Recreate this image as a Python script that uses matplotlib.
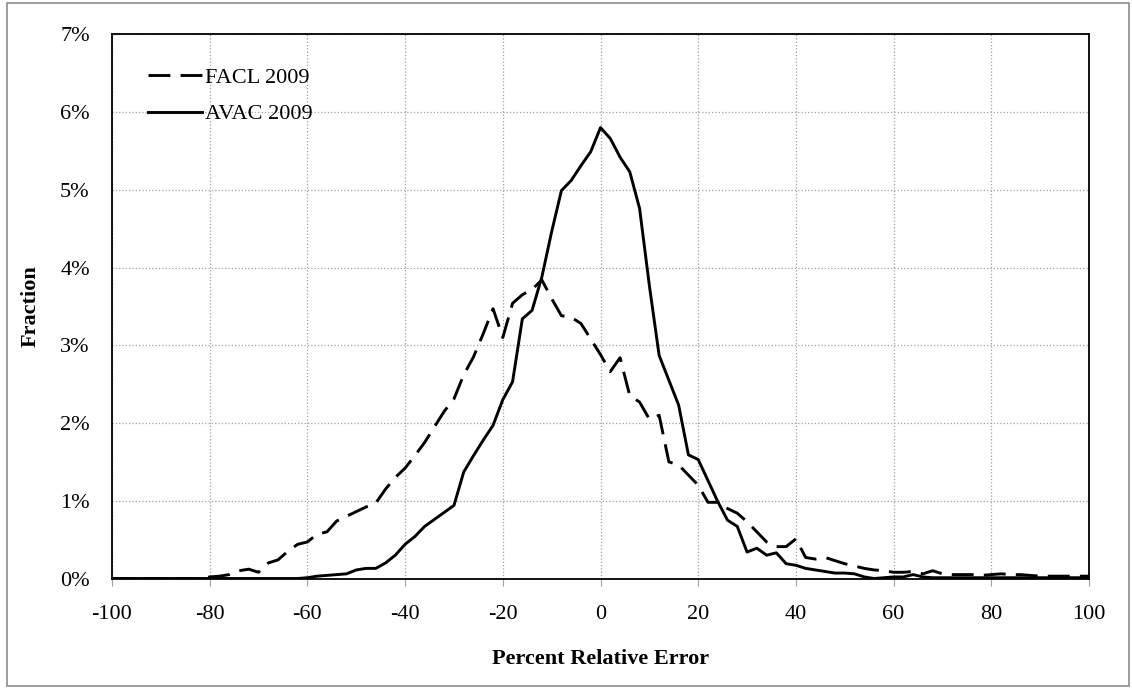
import numpy as np
import matplotlib
matplotlib.use("Agg")
import matplotlib.pyplot as plt
from matplotlib.patches import Rectangle
from matplotlib.ticker import FuncFormatter

# percent relative error bins, step 2
x_err = list(range(-100, 101, 2))

# FACL 2009 fraction (%)
facl = [0.0, 0.0, 0.0, 0.0, 0.0, 0.0, 0.0, 0.0, 0.0, 0.0,      # -100 .. -82
        0.02, 0.03, 0.05, 0.10, 0.12, 0.08, 0.20, 0.24, 0.35, 0.44,  # -80 .. -62
        0.47, 0.57, 0.60, 0.74, 0.80, 0.86, 0.92, 0.97, 1.15, 1.30,  # -60 .. -42
        1.42, 1.58, 1.75, 1.95, 2.15, 2.31, 2.62, 2.85, 3.15, 3.47,  # -40 .. -22
        3.10, 3.54, 3.65, 3.72, 3.84, 3.60, 3.38, 3.36, 3.28, 3.08,  # -20 .. -2
        2.88, 2.66, 2.84, 2.35, 2.27, 2.05, 2.10, 1.50, 1.46, 1.33,  # 0 .. 18
        1.20, 0.98, 0.98, 0.90, 0.84, 0.73, 0.60, 0.47, 0.41, 0.41,  # 20 .. 38
        0.51, 0.27, 0.25, 0.27, 0.23, 0.19, 0.16, 0.13, 0.11, 0.10,  # 40 .. 58
        0.08, 0.08, 0.09, 0.06, 0.10, 0.06, 0.05, 0.05, 0.05, 0.04,  # 60 .. 78
        0.05, 0.06, 0.05, 0.05, 0.04, 0.03, 0.03, 0.03, 0.03, 0.03,  # 80 .. 98
        0.03]                                                         # 100

# AVAC 2009 fraction (%)
avac = [0.0, 0.0, 0.0, 0.0, 0.0, 0.0, 0.0, 0.0, 0.0, 0.0,      # -100 .. -82
        0.0, 0.0, 0.0, 0.0, 0.0, 0.0, 0.0, 0.0, 0.0, 0.0,            # -80 .. -62
        0.01, 0.03, 0.04, 0.05, 0.06, 0.11, 0.13, 0.13, 0.20, 0.30,  # -60 .. -42
        0.44, 0.54, 0.67, 0.76, 0.85, 0.94, 1.37, 1.58, 1.78, 1.97,  # -40 .. -22
        2.30, 2.53, 3.34, 3.45, 3.88, 4.46, 4.99, 5.12, 5.31, 5.49,  # -20 .. -2
        5.80, 5.66, 5.42, 5.23, 4.76, 3.77, 2.87, 2.55, 2.23, 1.59,  # 0 .. 18
        1.53, 1.26, 0.99, 0.75, 0.67, 0.34, 0.39, 0.30, 0.33, 0.19,  # 20 .. 38
        0.17, 0.13, 0.11, 0.09, 0.07, 0.07, 0.06, 0.02, 0.00, 0.01,  # 40 .. 58
        0.02, 0.02, 0.05, 0.02, 0.01, 0.01, 0.01, 0.01, 0.01, 0.01,  # 60 .. 78
        0.01, 0.01, 0.01, 0.01, 0.01, 0.01, 0.01, 0.01, 0.01, 0.01,  # 80 .. 98
        0.01]                                                         # 100

x_ticks = list(range(-100, 101, 20))
y_ticks = list(range(0, 8))

plt.rcParams['font.family'] = ['Liberation Serif', 'DejaVu Serif']
plt.rcParams['axes.unicode_minus'] = False

fig = plt.figure(figsize=(11.32, 6.88), dpi=100)
ax = fig.add_axes([112 / 1132, 1 - 578.5 / 688, (1089 - 112) / 1132, (578.5 - 34.3) / 688])

# outer chart border
fig.patches.append(Rectangle((7 / 1132, 2 / 688), 1 - 10 / 1132, 1 - 5 / 688,
                             transform=fig.transFigure, fill=False,
                             edgecolor='#8c8c8c', linewidth=1.2))

ax.plot(x_err, facl, color='black', linewidth=2.1, dashes=[7.5, 3.5], label='FACL 2009')
ax.plot(x_err, avac, color='black', linewidth=2.1, label='AVAC 2009')

ax.set_xlim(-100, 100)
ax.set_ylim(0, 7)
ax.set_xticks(x_ticks)
ax.set_yticks(y_ticks)
ax.yaxis.set_major_formatter(FuncFormatter(lambda v, p: f"{v:.0f}%"))
ax.grid(True, color='#a0a0a0', linestyle=':', linewidth=0.9)
ax.set_axisbelow(True)

ax.tick_params(axis='x', length=5, width=0.8, color='#a0a0a0', direction='out',
               labelsize=16, pad=14)
ax.tick_params(axis='y', length=0, labelsize=16, pad=16)
for s in ax.spines.values():
    s.set_linewidth(1.3)
    s.set_color('black')

ax.set_xlabel('Percent Relative Error', fontsize=16, fontweight='bold', labelpad=18)
ax.set_ylabel('Fraction', fontsize=16, fontweight='bold', labelpad=14)

ax.legend(loc='upper left', bbox_to_anchor=(0.028, 0.955), frameon=False,
          fontsize=16, handlelength=2.4, handletextpad=0.15, labelspacing=0.7,
          borderaxespad=0)

fig.savefig('out.png', dpi=100)
